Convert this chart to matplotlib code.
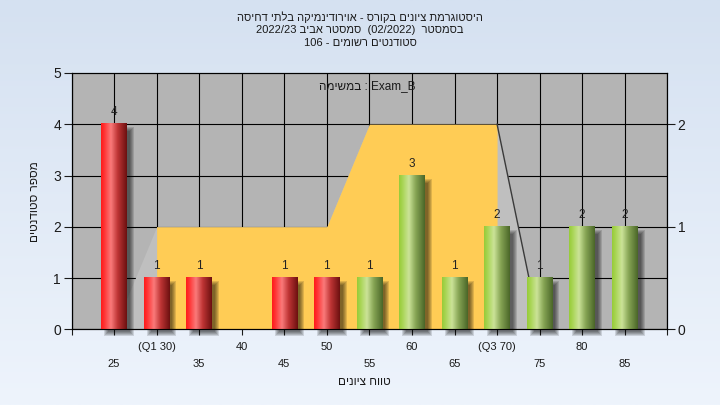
import numpy as np
import matplotlib
matplotlib.use('Agg')
import matplotlib.pyplot as plt
from matplotlib.transforms import ScaledTranslation
from matplotlib.colors import LinearSegmentedColormap
from matplotlib.patches import Rectangle

plt.rcParams['font.family'] = ['Liberation Sans', 'DejaVu Sans']


def rtl(s):
    return s[::-1]


# ---------------- data ----------------
categories = [25, 30, 35, 40, 45, 50, 55, 60, 65, 70, 75, 80, 85]
counts = [4, 1, 1, 0, 1, 1, 1, 3, 1, 2, 1, 2, 2]
bar_group = ['red', 'red', 'red', 'red', 'red', 'red',
             'green', 'green', 'green', 'green', 'green', 'green', 'green']
area_values = [0, 1, 1, 1, 1, 1, 2, 2, 2, 2, 0, 0, 0]
q1, q3 = 30, 70
xtick_labels = ['25', '(Q1 30)', '35', '40', '45', '50', '55', '60', '65',
                '(Q3 70)', '75', '80', '85']
left_ticks = [0, 1, 2, 3, 4, 5]
right_ticks = [0, 1, 2]

title_l1 = rtl('היסטוגרמת ציונים בקורס - אוירודינמיקה בלתי דחיסה')
title_l2 = '2022/23 ' + rtl('סמסטר אביב') + '  (02/2022)  ' + rtl('בסמסטר')
title_l3 = '106 - ' + rtl('סטודנטים רשומים')
legend_text = rtl('במשימה') + ' : Exam_B'
xlabel = rtl('טווח ציונים')
ylabel = rtl('מספר סטודנטים')

# ---------------- figure ----------------
fig = plt.figure(figsize=(7.2, 4.05), dpi=100)

bg = fig.add_axes([0, 0, 1, 1])
bg.set_zorder(-5)
bgcmap = LinearSegmentedColormap.from_list('bg', ['#D5E1F1', '#EEF4FC'])
bg.imshow(np.linspace(0, 1, 256).reshape(-1, 1), cmap=bgcmap, aspect='auto',
          extent=[0, 1, 0, 1], interpolation='bilinear')
bg.axis('off')

L, R, T, B = 71.5, 667.3, 73.0, 329.3
ax = fig.add_axes([L / 720, (405 - B) / 405, (R - L) / 720, (B - T) / 405])
ax.set_facecolor('#B4B4B4')
ax.set_xlim(20, 90)
ax.set_ylim(0, 2.5)

# area series (right axis)
cats = np.array(categories)
vals = np.array(area_values)
ax.fill_between(cats, vals, color='#BFBFBF', lw=0, zorder=1)
ax.fill_between(cats, vals, where=(cats >= q1) & (cats <= q3),
                color='#FFCC55', lw=0, zorder=1.1)
ax.plot(cats[9:11], vals[9:11], color='#3A3A3A', lw=1.0, zorder=1.2)
ax.plot(cats[10:], vals[10:], color='#E6E6E6', lw=1.0, zorder=1.2)

# ---------------- bars (left axis) ----------------
ax2 = ax.twinx()

# gridlines (drawn below area)
ax.set_axisbelow(True)
ax.set_xticks(categories, labels=xtick_labels)
ax.set_xticks([20, 90], minor=True)
ax.set_yticks(right_ticks)
ax.set_yticks([0.5, 1.5], minor=True)
ax.grid(True, which='both', color='black', lw=0.8)
ax.yaxis.tick_right()
ax.yaxis.set_label_position('right')
ax.tick_params(axis='y', which='major', length=6, width=0.8, pad=1.5,
               labelsize=10, colors='#1a1a1a', direction='out',
               left=False, labelleft=False, right=True, labelright=True)
ax.tick_params(axis='y', which='minor', length=0)
ax.tick_params(axis='x', which='both', length=4, width=0.8, pad=5.5,
               labelsize=8, colors='#1a1a1a', direction='out')

# second row of x tick labels
shift = ScaledTranslation(0, -16.6 / 100, fig.dpi_scale_trans)
for i, lab in enumerate(ax.get_xticklabels()):
    if i % 2 == 0:
        lab.set_transform(lab.get_transform() + shift)

for sp in ax.spines.values():
    sp.set_color('black')
    sp.set_linewidth(0.8)

ax2.set_ylim(0, 5)
ax2.set_yticks(left_ticks)
ax2.yaxis.tick_left()
ax2.yaxis.set_label_position('left')
ax2.tick_params(axis='y', length=6, width=0.8, pad=1.5, labelsize=10,
                colors='#1a1a1a', direction='out',
                left=True, labelleft=True, right=False, labelright=False)
for sp in ax2.spines.values():
    sp.set_color('black')
    sp.set_linewidth(0.8)

cmaps = {
    'red': LinearSegmentedColormap.from_list('r', [
        (0, '#FF1A1A'), (0.12, '#FF3232'), (0.38, '#FA7A7A'),
        (0.65, '#BE3434'), (1, '#6C1010')]),
    'green': LinearSegmentedColormap.from_list('g', [
        (0, '#96CB38'), (0.12, '#A6D450'), (0.38, '#CBE398'),
        (0.65, '#86A454'), (1, '#4A6628')]),
}

bars = ax2.bar(categories, counts, width=3.0, color='none', edgecolor='none')
grad = np.linspace(0, 1, 128).reshape(1, -1)
px_x = (R - L) / 70.0
px_y = (B - T) / 5.0
for rect, grp, c in zip(bars, bar_group, counts):
    if c == 0:
        continue
    x0, w, h = rect.get_x(), rect.get_width(), rect.get_height()
    # soft shadow
    dx, dy = 5 / px_x, 5 / px_y
    for k in range(5):
        ix, iy = k / px_x, k / px_y
        ax2.add_patch(Rectangle((x0 + dx - 2 / px_x + ix, -dy - 2 / px_y + iy),
                                w + 4 / px_x - 2 * ix, h + 4 / px_y - 2 * iy,
                                facecolor='black', alpha=0.13, lw=0,
                                zorder=1.5, clip_on=False))
    ax2.imshow(grad, cmap=cmaps[grp], extent=[x0, x0 + w, 0, h],
               aspect='auto', interpolation='bilinear', zorder=2)
    ax2.annotate(str(c), (rect.get_x() + w / 2, h), xytext=(0, 8.6),
                 textcoords='offset points', ha='center', va='center',
                 fontsize=8.5, color='#222222', zorder=3)

ax2.set_xlim(20, 90)
ax2.set_ylim(0, 5)

ax2.set_ylabel(ylabel, fontsize=8.5, color='#1a1a1a')
ax2.yaxis.set_label_coords(-0.052, 0.5)
ax.set_xlabel(xlabel, fontsize=8.5, color='#1a1a1a')
ax.xaxis.set_label_coords(0.491, -0.182)

ax2.text(0.496, 0.949, legend_text, transform=ax2.transAxes, ha='center',
         va='center', fontsize=8.5, color='#1a1a1a', zorder=4)

for yy, line in zip([17, 30, 43], [title_l1, title_l2, title_l3]):
    fig.text(0.5, 1 - yy / 405, line, ha='center', va='center', fontsize=8,
             color='#1a1a1a')

fig.savefig('out.png', dpi=100)
